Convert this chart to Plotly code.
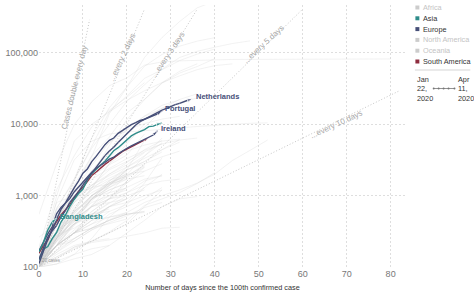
import plotly.graph_objects as go
import math

# ---------------- data ----------------
STEP = 4  # days between samples for the background (grey) countries

GRAY_COUNTRIES = {
    "United States": [100, 400, 1300, 3500, 14000, 33000, 86000, 164000, 275000, 427000, 530000],
    "Spain": [120, 400, 1700, 6400, 17000, 33000, 65000, 95000, 124000, 146000, 163000],
    "Italy": [155, 650, 1700, 4600, 10000, 21000, 35700, 59000, 86000, 105000, 119800, 135000, 147000],
    "Germany": [130, 670, 1600, 4800, 15000, 24900, 43900, 58000, 77900, 96000, 113000],
    "France": [100, 420, 1400, 3600, 6600, 14400, 22300, 37500, 52100, 64300, 83000],
    "United Kingdom": [115, 460, 800, 2000, 5000, 11600, 22100, 38200, 55200, 70300],
    "Iran": [141, 980, 5800, 10000, 14900, 21600, 29400, 38300, 47600, 58200, 66200, 70000],
    "China": [548, 2800, 9800, 20600, 34600, 44600, 67100, 74600, 77200, 78600, 80100, 80800,
              80900, 81000, 81200, 81400, 81600, 81800, 81900, 82000, 82100],
    "Turkey": [191, 1200, 3600, 9200, 15700, 23900, 38200],
    "Belgium": [109, 400, 1000, 2260, 4270, 7280, 11900, 16800, 22200, 26700],
    "Switzerland": [114, 490, 1125, 2650, 5600, 8800, 12900, 16600, 20300, 23300],
    "Canada": [103, 250, 870, 2100, 4000, 8500, 13000, 18400, 22000],
    "South Korea": [104, 830, 3150, 5800, 7300, 7800, 8100, 8400, 8900, 9300, 9700, 10100, 10300, 10450],
    "Japan": [105, 160, 230, 330, 460, 580, 800, 1000, 1200, 1500, 2000, 3100, 4300, 6000],
    "Singapore": [106, 140, 180, 230, 310, 450, 730, 900, 1100, 1480, 2100],
    "Austria": [104, 500, 1300, 3200, 5500, 8300, 10200, 11800, 12900],
    "Brazil": [121, 430, 1130, 2200, 3400, 5700, 9000, 15900],
    "Russia": [114, 300, 660, 1260, 2800, 5400, 10100],
    "Sweden": [137, 500, 1000, 1300, 1750, 2300, 3000, 4400, 6100],
    "Norway": [113, 630, 1200, 1700, 2400, 3300, 4300, 5300, 6000, 6400],
    "Denmark": [156, 800, 1000, 1400, 1900, 2500, 3300, 4400, 5600],
    "India": [102, 200, 430, 730, 1100, 2000, 3600, 6400],
    "Pakistan": [183, 500, 900, 1400, 2000, 2700, 4000],
    "Malaysia": [117, 200, 550, 1000, 1600, 2300, 2800, 3500, 4200],
    "Australia": [107, 250, 600, 1300, 2800, 4200, 5100, 5800, 6200],
    "Philippines": [111, 200, 380, 710, 1400, 2300, 3000, 4100],
    "Indonesia": [117, 300, 580, 1000, 1400, 1800, 2500],
    "Mexico": [118, 250, 470, 1000, 1380, 2100],
    "Saudi Arabia": [103, 270, 560, 1000, 1450, 1900, 2600],
    "Poland": [103, 250, 630, 1200, 2000, 2900, 4400, 5900],
    "Romania": [123, 270, 430, 900, 1600, 2500, 3600, 5500],
    "Ecuador": [111, 500, 1200, 1900, 2700, 3700, 7300],
    "Peru": [117, 260, 480, 850, 1400, 2300, 5900],
    "Argentina": [128, 300, 600, 900, 1200, 1500],
    "South Africa": [110, 240, 900, 1300, 1450, 1700, 1900],
    "Egypt": [110, 200, 330, 540, 780, 1100, 1600, 1900],
    "Algeria": [139, 300, 500, 900, 1300, 1700],
    "Morocco": [115, 225, 400, 600, 900, 1300],
    "Thailand": [114, 320, 800, 1200, 1650, 1980, 2200],
    "Vietnam": [100, 150, 200, 230, 250],
    "Greece": [117, 330, 460, 700, 1000, 1300, 1700, 1900],
    "Finland": [155, 270, 520, 880, 1200, 1500, 2200, 2800],
    "Czechia": [120, 300, 800, 1400, 2300, 3000, 4100, 5300],
    "Iceland": [100, 200, 300, 600, 900, 1100, 1400, 1600, 1700],
    "Colombia": [102, 230, 470, 700, 900, 1500, 2500],
    "Dominican Republic": [112, 300, 720, 1100, 1500, 1900],
    "Panama": [109, 250, 450, 900, 1300, 1900, 2700],
    "Croatia": [105, 300, 500, 800, 1000, 1200],
    "Serbia": [103, 250, 400, 900, 1500, 2000],
    "Qatar": [262, 400, 460, 550, 600, 750, 1300, 2000],
    "Bahrain": [110, 200, 230, 330, 420, 520, 680, 800],
    "United Arab Emirates": [100, 110, 150, 250, 500, 800, 1500, 3400],
    "Hong Kong": [100, 110, 130, 150, 200, 300, 450, 700, 900, 970],
    "Estonia": [171, 280, 350, 500, 700, 1000, 1200],
    "Slovenia": [141, 250, 400, 500, 700, 800, 1000, 1200],
    "Ukraine": [100, 300, 600, 1000, 1500, 2200],
    "Kazakhstan": [100, 200, 300, 500, 700],
    "Iraq": [110, 160, 250, 350, 550, 700, 900, 1300],
    "Lebanon": [100, 200, 300, 450, 500, 550, 600],
    "Cameroon": [100, 200, 400, 700, 800],
    "Tunisia": [114, 230, 400, 550, 650],
    "Moldova": [109, 230, 500, 900, 1500, 1900],
    "Lithuania": [100, 250, 450, 700, 900, 1000],
    "Armenia": [122, 200, 400, 550, 800, 900],
    "North Macedonia": [100, 200, 300, 450, 700, 900],
    "Kuwait": [104, 130, 190, 230, 300, 400, 700, 1200],
    "Sri Lanka": [102, 120, 150, 180, 200],
    "New Zealand": [102, 280, 600, 950, 1100, 1280],
    "Latvia": [111, 200, 300, 400, 500, 580],
    "Uruguay": [110, 200, 300, 350, 400, 470],
    "Costa Rica": [113, 200, 300, 350, 450, 550, 580],
    "Bulgaria": [100, 200, 250, 350, 450, 550, 600],
    "Hungary": [103, 170, 300, 450, 700, 900, 1300],
    "San Marino": [101, 140, 190, 220, 240, 270, 300, 350, 360],
    "Cuba": [100, 200, 300, 400, 600],
    "Cyprus": [100, 170, 250, 350, 450, 550],
}

# Highlighted countries: daily values, day 0 = 100th confirmed case
NETHERLANDS = [128, 188, 265, 321, 382, 503, 614, 804, 959, 1135, 1413, 1705, 2051, 2460, 2994,
               3631, 4204, 4749, 5560, 6412, 7431, 8603, 9762, 10866, 11750, 12595, 13614, 14697,
               15723, 16627, 17851, 18803, 19580, 20549, 21762, 23097]
PORTUGAL = [112, 169, 245, 331, 448, 642, 785, 1020, 1280, 1600, 2060, 2362, 2995, 3544, 4268,
            5170, 5962, 6408, 7443, 8251, 9034, 9886, 10524, 11278, 11730, 12442, 13141, 13956, 15472]
IRELAND = [169, 223, 292, 366, 557, 683, 785, 906, 1125, 1329, 1564, 1819, 2121, 2415, 2615,
           2910, 3235, 3447, 3849, 4273, 4604, 4994, 5364, 5709, 6074, 6574, 7054, 8089]
ISRAEL = [126, 178, 193, 250, 304, 427, 529, 705, 883, 1071, 1238, 1656, 2030, 2369, 2693, 3035,
          3619, 4247, 4695, 5358, 6092, 6857, 7428, 7851, 8430, 9248, 9404, 9968, 10408]
CHILE = [156, 201, 238, 342, 434, 537, 632, 746, 922, 1142, 1306, 1610, 1909, 2139, 2449, 2738,
         3031, 3404, 3737, 4161, 4471, 4815, 5116, 5546, 5972, 6501]
BANGLADESH = [164, 218, 330, 424, 482]

DOUBLING_DAYS = [1, 2, 3, 5, 10]
DOUBLING_END_DAY = [11.5, 24, 36, 60, 82]
DOUBLING_LABELS = ["Cases double every day", "...every 2 days", "...every 3 days",
                   "...every 5 days", "...every 10 days"]

X_TICKS = [0, 10, 20, 30, 40, 50, 60, 70, 80]
Y_TICKS = [100, 1000, 10000, 100000]
Y_TICK_TEXT = ["100", "1,000", "10,000", "100,000"]

CONTINENTS = ["Africa", "Asia", "Europe", "North America", "Oceania", "South America"]
START_DATE = ["Jan", "22,", "2020"]
END_DATE = ["Apr", "11,", "2020"]

# ---------------- styles ----------------
FONT = "'Liberation Sans', Arial, sans-serif"
C_ASIA = "#2e8c8a"
C_EUROPE = "#464f78"
C_SAM = "#8e2c3f"
C_GRAY_LINE = "rgba(205,205,205,0.45)"
CONT_COLORS = {"Africa": "#cccccc", "Asia": C_ASIA, "Europe": C_EUROPE,
               "North America": "#cccccc", "Oceania": "#cccccc", "South America": C_SAM}
CONT_TEXT = {"Africa": "#c4c4c4", "Asia": "#333333", "Europe": "#333333",
             "North America": "#c4c4c4", "Oceania": "#c4c4c4", "South America": "#333333"}

fig = go.Figure()

# reference doubling lines
for d, end in zip(DOUBLING_DAYS, DOUBLING_END_DAY):
    fig.add_trace(go.Scatter(x=[0, end], y=[100, 100 * 2 ** (end / d)], mode="lines",
                             line=dict(color="#b8b8b8", width=0.8, dash="1px,2px"),
                             hoverinfo="skip", showlegend=False))

# grey background countries
for name, vals in GRAY_COUNTRIES.items():
    fig.add_trace(go.Scatter(x=[i * STEP for i in range(len(vals))], y=vals, mode="lines",
                             line=dict(color=C_GRAY_LINE, width=0.6),
                             name=name, showlegend=False, hoverinfo="skip"))

highlight = [
    ("Chile", CHILE, C_SAM, None),
    ("Israel", ISRAEL, C_ASIA, None),
    ("Ireland", IRELAND, C_EUROPE, "Ireland"),
    ("Portugal", PORTUGAL, C_EUROPE, "Portugal"),
    ("Netherlands", NETHERLANDS, C_EUROPE, "Netherlands"),
    ("Bangladesh", BANGLADESH, C_ASIA, "Bangladesh"),
]

for name, vals, col, label in highlight:
    n = len(vals)
    fig.add_trace(go.Scatter(
        x=list(range(n)), y=vals, mode="lines+markers",
        line=dict(color=col, width=1.4),
        marker=dict(symbol=["circle"] * (n - 1) + ["arrow"],
                    size=[0] * (n - 1) + [6], color=col, angleref="previous"),
        name=name, showlegend=False, hoverinfo="skip"))
    if label:
        fig.add_annotation(x=n - 1, y=math.log10(vals[-1]), text="<b>%s</b>" % label,
                           showarrow=False, xanchor="left", yanchor="middle", xshift=1,
                           yshift=2, font=dict(family=FONT, size=7.5, color=col))

# doubling labels (positions in axis units: day, log10 cases)
label_pos = [(8.1, 4.51, -76), (18.9, 4.94, -65), (29.5, 4.97, -56), (51.1, 5.11, -43), (67.6, 4.0, -25)]
for txt, (lx, ly, ang) in zip(DOUBLING_LABELS, label_pos):
    fig.add_annotation(x=lx, y=ly, text=txt, showarrow=False, textangle=ang,
                       font=dict(family=FONT, size=8, color="#a8a8a8"))

fig.add_annotation(x=0, y=2, text="20 cases", showarrow=False, xanchor="left", yanchor="bottom",
                   xshift=1, yshift=2, font=dict(family=FONT, size=4.5, color="#999999"))

# ---------------- legend (right side) ----------------
PW, PH = 371.0, 262.0  # plot area in px


def px_x(px):
    return (px - 35) / PW


def px_y(py):
    return (267 - py) / PH


for i, cont in enumerate(CONTINENTS):
    cy = 7.5 + i * 10.8
    fig.add_shape(type="rect", xref="paper", yref="paper",
                  x0=px_x(415.5), x1=px_x(419.5), y0=px_y(cy + 2), y1=px_y(cy - 2),
                  fillcolor=CONT_COLORS[cont], line=dict(width=0))
    fig.add_annotation(xref="paper", yref="paper", x=px_x(421.5), y=px_y(cy), text=cont,
                       showarrow=False, xanchor="left", yanchor="middle",
                       font=dict(family=FONT, size=7.3, color=CONT_TEXT[cont]))

fig.add_shape(type="line", xref="paper", yref="paper", x0=px_x(415), x1=px_x(471),
              y0=px_y(70), y1=px_y(70), line=dict(color="#d5d5d5", width=1))

for j, (a, b) in enumerate(zip(START_DATE, END_DATE)):
    yy = px_y(79 + j * 9.5)
    fig.add_annotation(xref="paper", yref="paper", x=px_x(415), y=yy, text=a, showarrow=False,
                       xanchor="left", yanchor="middle", font=dict(family=FONT, size=7.3, color="#333"))
    fig.add_annotation(xref="paper", yref="paper", x=px_x(456.5), y=yy, text=b, showarrow=False,
                       xanchor="left", yanchor="middle", font=dict(family=FONT, size=7.3, color="#333"))

fig.add_shape(type="line", xref="paper", yref="paper", x0=px_x(434), x1=px_x(455),
              y0=px_y(88.5), y1=px_y(88.5), line=dict(color="#777", width=0.8))
for dx in [434, 439, 444, 449, 455]:
    fig.add_shape(type="circle", xref="paper", yref="paper", x0=px_x(dx - 1), x1=px_x(dx + 1),
                  y0=px_y(89.5), y1=px_y(87.5), fillcolor="#777", line=dict(width=0))

# ---------------- layout ----------------
fig.update_layout(
    width=474, height=295,
    margin=dict(l=35, r=68, t=5, b=28),
    paper_bgcolor="white", plot_bgcolor="white",
    font=dict(family=FONT, size=9, color="#666"),
    showlegend=False,
    xaxis=dict(range=[0, 83.5], tickvals=X_TICKS, showgrid=True, gridcolor="#dedede",
               griddash="2px,2px", gridwidth=1, zeroline=False, showline=False, ticks="",
               tickfont=dict(family=FONT, size=9, color="#777"),
               title=dict(text="Number of days since the 100th confirmed case",
                          font=dict(family=FONT, size=7.3, color="#333"), standoff=6)),
    yaxis=dict(type="log", range=[2, 5.67], tickvals=Y_TICKS, ticktext=Y_TICK_TEXT,
               showgrid=True, gridcolor="#dedede", griddash="2px,2px", gridwidth=1,
               zeroline=False, showline=False, ticks="",
               tickfont=dict(family=FONT, size=9, color="#777")),
)

fig.write_html("out.html")
